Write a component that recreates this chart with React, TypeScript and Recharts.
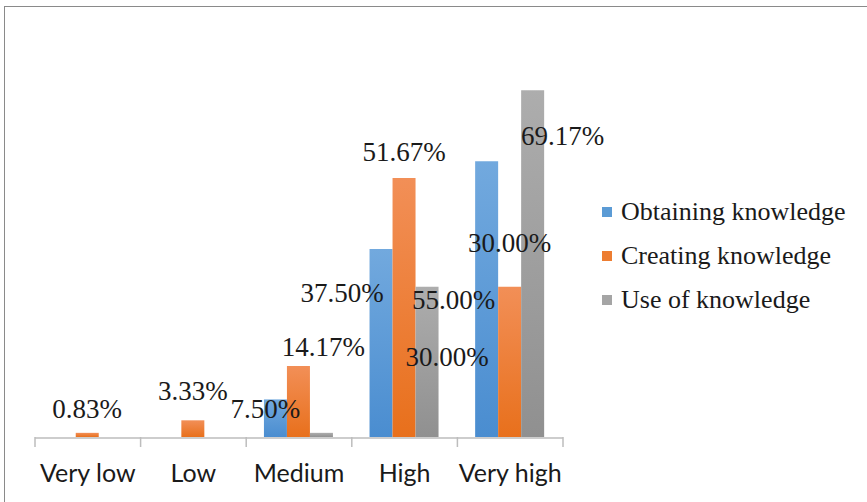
import React from 'react';
import { BarChart, Bar, XAxis, YAxis, Legend, LabelList } from 'recharts';

const categories = ['Very low', 'Low', 'Medium', 'High', 'Very high'];
const obtaining = [0, 0, 7.5, 37.5, 55];
const creating = [0.83, 3.33, 14.17, 51.67, 30];
const useOf = [0, 0, 0.83, 30, 69.17];
const edgeTicks = [0, 1, 2, 3, 4, 5];

const SERIES = [
  { key: 'obtaining', name: 'Obtaining knowledge', color: '#5b9bd5', grad: 'gBlue', values: obtaining },
  { key: 'creating', name: 'Creating knowledge', color: '#ed7d31', grad: 'gOrange', values: creating },
  { key: 'useOf', name: 'Use of knowledge', color: '#a5a5a5', grad: 'gGray', values: useOf },
];

// where the data labels sit, relative to the top centre of each bar (null = no label)
const labelNudges: Record<string, (number[] | null)[]> = {
  obtaining: [null, null, [-10, 10], [-39, 44], [-33, 139]],
  creating: [[0, -24], [0, -29], [25, -19], [0, -26], [0, -44]],
  useOf: [null, null, null, [20, 70], [30, 46]],
};

const data = categories.map((c, i) => ({
  name: c,
  obtaining: obtaining[i],
  creating: creating[i],
  useOf: useOf[i],
}));

const serif = '"Liberation Serif", "Times New Roman", serif';

const makeLabel = (key: string, values: number[]) => (props: any) => {
  const { x, y, width, value } = props;
  const ci = categories.indexOf(value);
  if (ci < 0) return null;
  const n = labelNudges[key][ci];
  const v = values[ci];
  if (!n || !v) return null;
  return (
    <text
      x={Number(x) + Number(width) / 2 + n[0]}
      y={Number(y) + n[1]}
      textAnchor="middle"
      dominantBaseline="central"
      fontFamily={serif}
      fontSize={27}
      fill="#1a1a1a"
    >
      {v.toFixed(2)}%
    </text>
  );
};

const renderLegend = () => (
  <div style={{ fontFamily: serif, fontSize: 26, color: '#1a1a1a' }}>
    {SERIES.map((s) => (
      <div key={s.key} style={{ height: 44, display: 'flex', alignItems: 'center', whiteSpace: 'nowrap' }}>
        <span style={{ width: 10, height: 10, background: s.color, display: 'inline-block', marginRight: 9 }} />
        {s.name}
      </div>
    ))}
  </div>
);

const EmptyTick = () => <g />;

export default function App() {
  return (
    <div style={{ position: 'absolute', left: 0, top: 0, width: 867, height: 502, background: '#fff', overflow: 'hidden' }}>
      <div
        style={{
          position: 'absolute',
          left: 4,
          top: 6,
          width: 900,
          height: 600,
          borderLeft: '1.5px solid #8a8a8a',
          borderTop: '1.5px solid #8a8a8a',
        }}
      />
      <BarChart
        width={867}
        height={502}
        data={data}
        margin={{ top: 36, right: 39, bottom: 25, left: 35 }}
        barCategoryGap="16.8%"
        barGap={0}
        style={{ position: 'absolute', left: 0, top: 0 }}
      >
        <defs>
          <linearGradient id="gBlue" x1="0" y1="0" x2="0" y2="1">
            <stop offset="0%" stopColor="#72a9de" />
            <stop offset="100%" stopColor="#4a8dd0" />
          </linearGradient>
          <linearGradient id="gOrange" x1="0" y1="0" x2="0" y2="1">
            <stop offset="0%" stopColor="#f28f57" />
            <stop offset="100%" stopColor="#e8701c" />
          </linearGradient>
          <linearGradient id="gGray" x1="0" y1="0" x2="0" y2="1">
            <stop offset="0%" stopColor="#adadad" />
            <stop offset="100%" stopColor="#909090" />
          </linearGradient>
        </defs>
        <XAxis
          xAxisId="cat"
          dataKey="name"
          height={39}
          tickLine={false}
          axisLine={{ stroke: '#bdbdbd', strokeWidth: 1.5 }}
          tick={{ fontFamily: 'Lato, "Open Sans", sans-serif', fontSize: 25, fill: '#1a1a1a' }}
          tickMargin={20}
          interval={0}
        />
        <XAxis
          xAxisId="aEdges"
          type="number"
          dataKey={() => 0}
          domain={[0, 5]}
          ticks={edgeTicks}
          allowDataOverflow
          height={1}
          tick={<EmptyTick />}
          tickSize={10}
          axisLine={false}
          tickLine={{ stroke: '#bdbdbd', strokeWidth: 1.5 }}
        />
        <YAxis hide domain={[0, 80]} />
        <Legend
          layout="vertical"
          align="right"
          verticalAlign="top"
          content={renderLegend}
          wrapperStyle={{ position: 'absolute', left: 602, top: 190, width: 265 }}
        />
        {SERIES.map((s) => (
          <Bar
            key={s.key}
            xAxisId="cat"
            dataKey={s.key}
            name={s.name}
            fill={`url(#${s.grad})`}
            isAnimationActive={false}
          >
            <LabelList
              valueAccessor={(entry: any) => entry?.payload?.name}
              content={makeLabel(s.key, s.values)}
            />
          </Bar>
        ))}
      </BarChart>
    </div>
  );
}
